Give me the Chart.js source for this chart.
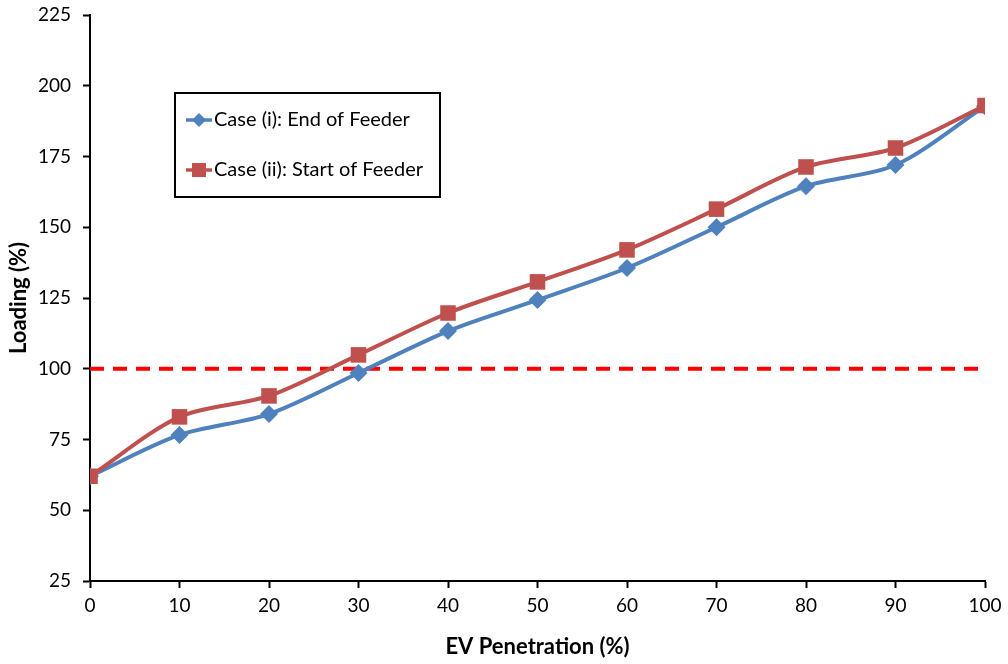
<!DOCTYPE html>
<html>
<head>
<meta charset="utf-8">
<script src="https://cdn.jsdelivr.net/npm/chart.js@4"></script>
<style>
  html, body { margin: 0; padding: 0; background: #fff; }
  #wrap { width: 1008px; height: 664px; position: relative; }
</style>
</head>
<body>
<div id="wrap"><canvas id="chart" width="1008" height="664"></canvas></div>
<script>
// EV penetration levels (%)
const penetration = [0, 10, 20, 30, 40, 50, 60, 70, 80, 90, 100];
// Transformer loading (%)
const endOfFeeder   = [62, 76.6, 84, 98.5, 113.3, 124.3, 135.6, 150, 164.5, 172, 192.8];
const startOfFeeder = [62, 83, 90.4, 104.9, 119.7, 130.7, 142, 156.4, 171.3, 178, 193];
const limitLine = [100, 100];
const limitX = [0, 100];

const seriesLabels = ["Case (i): End of Feeder", "Case (ii): Start of Feeder"];
const BLUE = "#4F81BD", RED = "#C0504D";
const FONT = "Lato, 'Open Sans', sans-serif";

const pts = (xs, ys) => xs.map((x, i) => ({ x, y: ys[i] }));

// legend box drawn inside the plot area
const boxLegend = {
  id: "boxLegend",
  afterDraw(c) {
    const ctx = c.ctx;
    ctx.save();
    ctx.strokeStyle = "#000"; ctx.lineWidth = 2;
    ctx.strokeRect(175, 93, 265, 104);
    const items = [
      { y: 120, color: BLUE, shape: "diamond", text: seriesLabels[0] },
      { y: 170, color: RED,  shape: "square",  text: seriesLabels[1] },
    ];
    items.forEach(it => {
      ctx.strokeStyle = it.color; ctx.lineWidth = 3.5;
      ctx.beginPath(); ctx.moveTo(186, it.y); ctx.lineTo(212, it.y); ctx.stroke();
      ctx.fillStyle = it.color;
      ctx.beginPath();
      if (it.shape === "diamond") {
        ctx.moveTo(199, it.y - 7); ctx.lineTo(206, it.y); ctx.lineTo(199, it.y + 7); ctx.lineTo(192, it.y);
      } else {
        ctx.rect(192, it.y - 7, 14, 14);
      }
      ctx.fill();
      ctx.fillStyle = "#000";
      ctx.font = "20px " + FONT;
      ctx.textBaseline = "middle";
      ctx.fillText(it.text, 214, it.y);
    });
    ctx.restore();
  }
};

new Chart(document.getElementById("chart"), {
  type: "line",
  data: {
    datasets: [
      {
        label: "Limit", data: pts(limitX, limitLine),
        borderColor: "#FF0000", borderWidth: 4, borderDash: [14, 9],
        pointRadius: 0, tension: 0, order: 3
      },
      {
        label: seriesLabels[0], data: pts(penetration, endOfFeeder),
        borderColor: BLUE, backgroundColor: BLUE, borderWidth: 4,
        pointStyle: "rectRot", pointRadius: 9, pointBorderWidth: 0,
        tension: 0.3, order: 2
      },
      {
        label: seriesLabels[1], data: pts(penetration, startOfFeeder),
        borderColor: RED, backgroundColor: RED, borderWidth: 4,
        pointStyle: "rect", pointRadius: 11, pointBorderWidth: 0,
        tension: 0.3, order: 1
      }
    ]
  },
  options: {
    responsive: false, animation: false,
    layout: { padding: { top: 15, right: 23, left: 0, bottom: 0 } },
    plugins: { legend: { display: false }, tooltip: { enabled: false } },
    scales: {
      x: {
        type: "linear", min: 0, max: 100,
        afterBuildTicks: s => { s.ticks = penetration.map(v => ({ value: v })); },
        grid: { display: true, drawOnChartArea: false, drawTicks: true, tickLength: 7, tickColor: "#000", tickWidth: 2 },
        border: { color: "#000", width: 2 },
        ticks: { color: "#000", font: { family: FONT, size: 19 }, padding: 6, maxRotation: 0 },
        title: { display: true, text: "EV Penetration (%)", color: "#000", font: { family: FONT, size: 22, weight: "bold" }, padding: { top: 4 } },
        afterFit: s => { s.height = 83; s.paddingLeft = 0; s.paddingRight = 0; }
      },
      y: {
        min: 25, max: 225,
        ticks: { stepSize: 25, color: "#000", font: { family: FONT, size: 19 }, padding: 12 },
        grid: { display: true, drawOnChartArea: false, drawTicks: true, tickLength: 7, tickColor: "#000", tickWidth: 2 },
        border: { color: "#000", width: 2 },
        title: { display: true, text: "Loading (%)", color: "#000", font: { family: FONT, size: 22, weight: "bold" }, padding: { top: 6 } },
        afterFit: s => { s.width = 90; s.paddingTop = 0; s.paddingBottom = 0; }
      }
    }
  },
  plugins: [boxLegend]
});
</script>
</body>
</html>
